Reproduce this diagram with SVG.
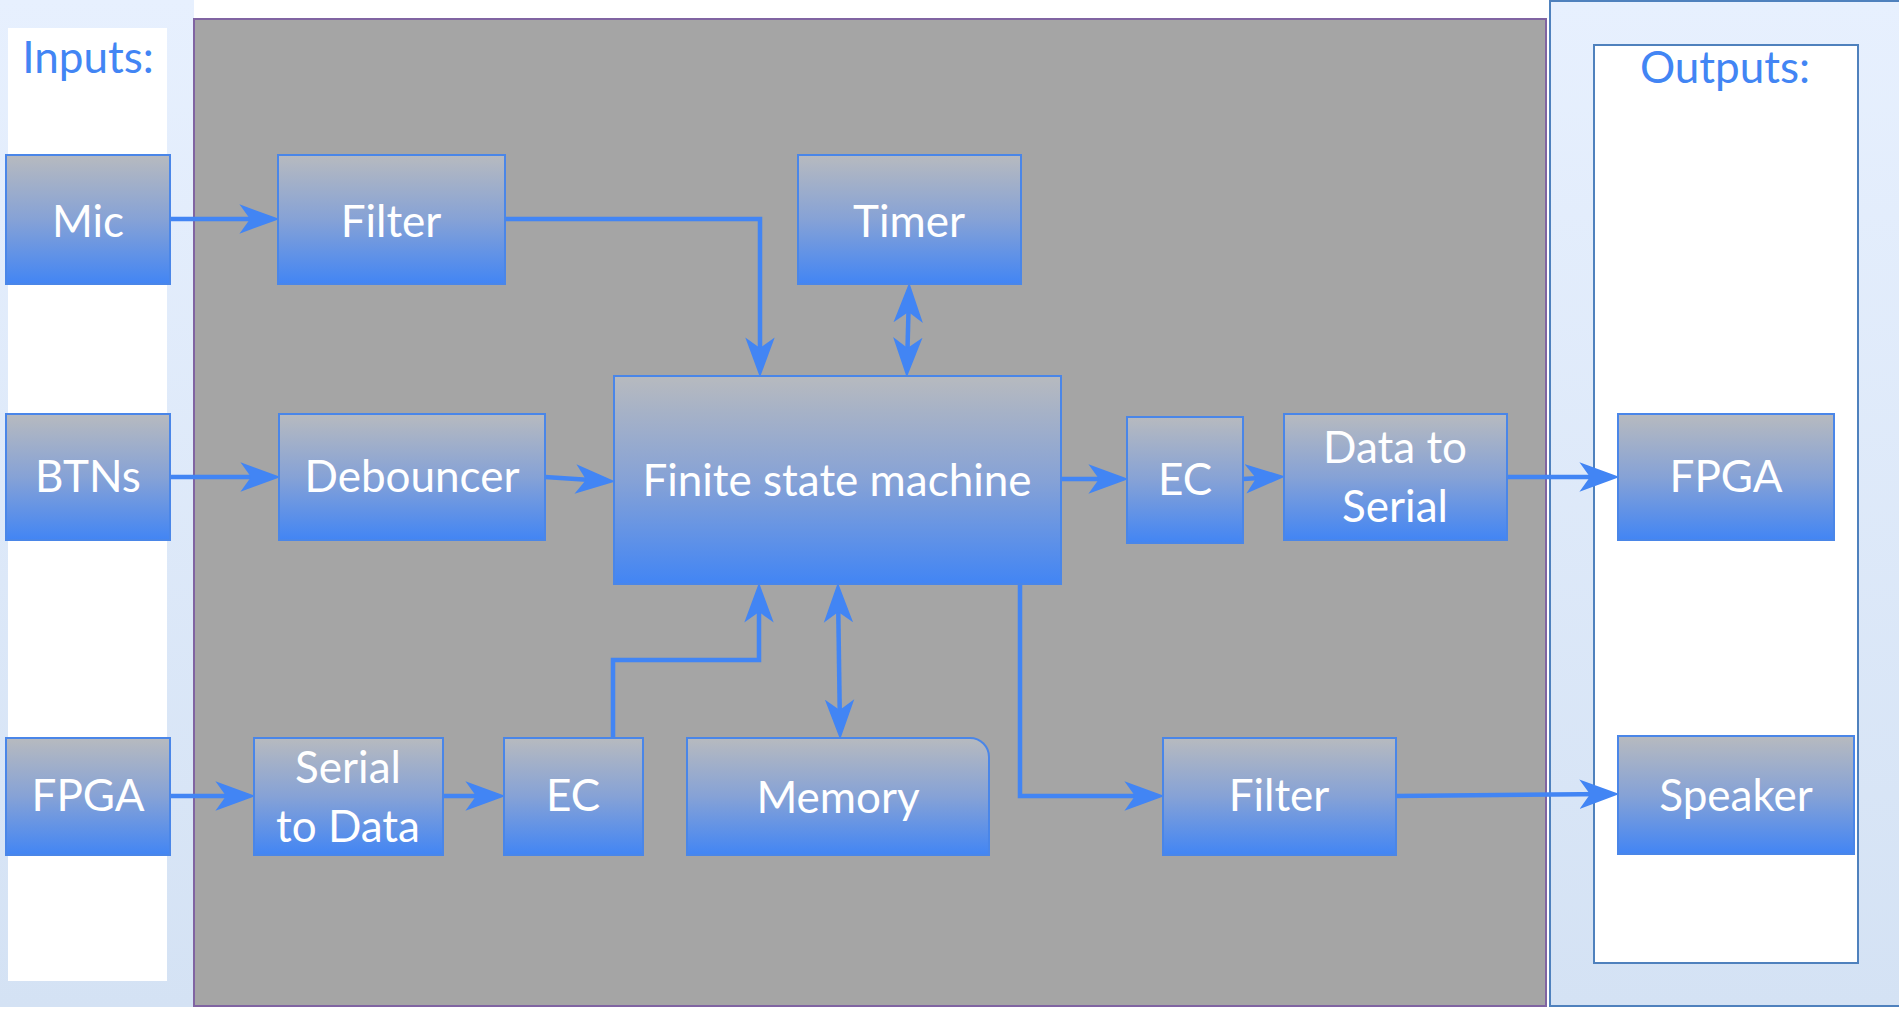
<svg xmlns="http://www.w3.org/2000/svg" width="1899" height="1009" viewBox="0 0 1899 1009">
<style>
.node{stroke:#4a86e8;stroke-width:2;fill:url(#ng)}
.lbl{font-family:Lato,"Liberation Sans",sans-serif;font-size:44px;fill:#ffffff;text-anchor:middle}
.ttl{font-family:Lato,"Liberation Sans",sans-serif;font-size:44px;fill:#4285f4;text-anchor:middle}
.con{fill:none;stroke:#4285f4;stroke-width:4.5;stroke-linejoin:miter}
</style>
<defs>
<linearGradient id="ng" x1="0" y1="0" x2="0" y2="1">
<stop offset="0" stop-color="#b7babf"/>
<stop offset="0.5" stop-color="#86a2d6"/>
<stop offset="1" stop-color="#4285f4"/>
</linearGradient>
<linearGradient id="pg" x1="0" y1="0" x2="0" y2="1">
<stop offset="0" stop-color="#e7f0fe"/>
<stop offset="1" stop-color="#d4e2f4"/>
</linearGradient>
<marker id="ah" markerUnits="userSpaceOnUse" markerWidth="40" markerHeight="30" viewBox="0 0 34 25" refX="26" refY="12.5" orient="auto-start-reverse">
<path d="M0,0 L34,12.5 L0,25 L9,12.5 Z" fill="#4285f4"/>
</marker>
</defs>

<g id="inputs-panel">
<rect x="0" y="0" width="194" height="1007" fill="url(#pg)"/>
<rect x="8" y="28" width="159" height="953" fill="#ffffff"/>
<text class="ttl" x="88" y="73">Inputs:</text>
</g>

<g id="outputs-panel">
<rect x="1550" y="1" width="360" height="1005" fill="url(#pg)" stroke="#4f81bd" stroke-width="2"/>
<rect x="1594" y="45" width="264" height="918" fill="#ffffff" stroke="#4f81bd" stroke-width="2"/>
<text class="ttl" x="1725" y="83">Outputs:</text>
</g>

<g id="system">
<rect x="194" y="19" width="1352" height="987" fill="#a5a5a5" stroke="#8064a2" stroke-width="2"/>
</g>

<g id="connectors">
<path class="con" d="M170,219 H270" marker-end="url(#ah)"/>
<path class="con" d="M505,219 H760 V368" marker-end="url(#ah)"/>
<path class="con" d="M909,292 L907,368" marker-start="url(#ah)" marker-end="url(#ah)"/>
<path class="con" d="M170,477 H271" marker-end="url(#ah)"/>
<path class="con" d="M545,477 L606,481" marker-end="url(#ah)"/>
<path class="con" d="M1061,479 H1119" marker-end="url(#ah)"/>
<path class="con" d="M1243,479 L1276,477" marker-end="url(#ah)"/>
<path class="con" d="M1507,477 H1610" marker-end="url(#ah)"/>
<path class="con" d="M170,796 H246" marker-end="url(#ah)"/>
<path class="con" d="M443,796 H496" marker-end="url(#ah)"/>
<path class="con" d="M613,738 V660 H759 V592" marker-end="url(#ah)"/>
<path class="con" d="M838,592 L840,730" marker-start="url(#ah)" marker-end="url(#ah)"/>
<path class="con" d="M1020,584 V796 H1155" marker-end="url(#ah)"/>
<path class="con" d="M1396,796 L1610,794" marker-end="url(#ah)"/>
</g>

<g id="mic"><rect class="node" x="6" y="155" width="164" height="129"/><text class="lbl" x="88" y="237">Mic</text></g>
<g id="btns"><rect class="node" x="6" y="414" width="164" height="126"/><text class="lbl" x="88" y="492">BTNs</text></g>
<g id="fpga-in"><rect class="node" x="6" y="738" width="164" height="117"/><text class="lbl" x="88" y="811">FPGA</text></g>

<g id="filter1"><rect class="node" x="278" y="155" width="227" height="129"/><text class="lbl" x="391" y="237">Filter</text></g>
<g id="timer"><rect class="node" x="798" y="155" width="223" height="129"/><text class="lbl" x="909" y="237">Timer</text></g>
<g id="debouncer"><rect class="node" x="279" y="414" width="266" height="126"/><text class="lbl" x="412" y="492">Debouncer</text></g>
<g id="fsm"><rect class="node" x="614" y="376" width="447" height="208"/><text class="lbl" x="837" y="496">Finite state machine</text></g>
<g id="ec2"><rect class="node" x="1127" y="417" width="116" height="126"/><text class="lbl" x="1185" y="495">EC</text></g>
<g id="data-to-serial"><rect class="node" x="1284" y="414" width="223" height="126"/><text class="lbl" x="1395" y="463">Data to</text><text class="lbl" x="1395" y="522">Serial</text></g>
<g id="fpga-out"><rect class="node" x="1618" y="414" width="216" height="126"/><text class="lbl" x="1726" y="492">FPGA</text></g>

<g id="serial-to-data"><rect class="node" x="254" y="738" width="189" height="117"/><text class="lbl" x="348" y="783">Serial</text><text class="lbl" x="348" y="842">to Data</text></g>
<g id="ec1"><rect class="node" x="504" y="738" width="139" height="117"/><text class="lbl" x="573" y="811">EC</text></g>
<g id="memory"><path class="node" d="M687,738 H970 A19,19 0 0 1 989,757 V855 H687 Z"/><text class="lbl" x="838" y="813">Memory</text></g>
<g id="filter2"><rect class="node" x="1163" y="738" width="233" height="117"/><text class="lbl" x="1279" y="811">Filter</text></g>
<g id="speaker"><rect class="node" x="1618" y="736" width="236" height="118"/><text class="lbl" x="1736" y="811">Speaker</text></g>
</svg>
